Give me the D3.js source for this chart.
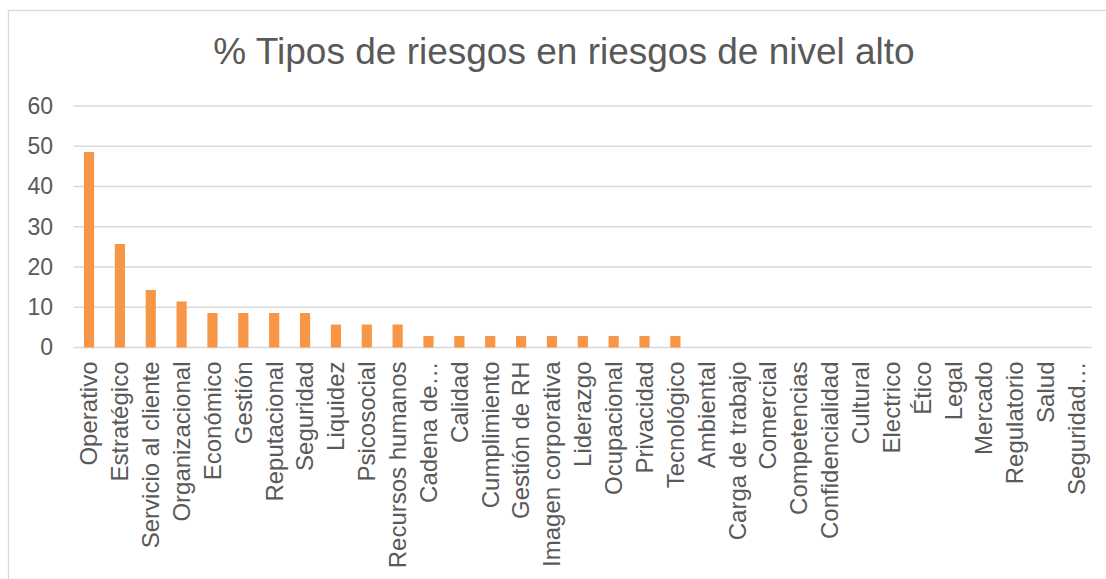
<!DOCTYPE html>
<html>
<head>
<meta charset="utf-8">
<script src="https://cdn.jsdelivr.net/npm/d3@7"></script>
<style>
  html, body { margin: 0; padding: 0; background: #fff; }
  svg { display: block; font-family: "Liberation Sans", Arial, sans-serif; }
</style>
</head>
<body>
<div id="chart"></div>
<script>
const title = '% Tipos de riesgos en riesgos de nivel alto';

const categories = [
  'Operativo', 'Estratégico', 'Servicio al cliente', 'Organizacional',
  'Económico', 'Gestión', 'Reputacional', 'Seguridad', 'Liquidez',
  'Psicosocial', 'Recursos humanos', 'Cadena de…', 'Calidad',
  'Cumplimiento', 'Gestión de RH', 'Imagen corporativa', 'Liderazgo',
  'Ocupacional', 'Privacidad', 'Tecnológico', 'Ambiental',
  'Carga de trabajo', 'Comercial', 'Competencias', 'Confidencialidad',
  'Cultural', 'Electrico', 'Ético', 'Legal', 'Mercado', 'Regulatorio',
  'Salud', 'Seguridad…'
];

const values = [
  48.57, 25.71, 14.29, 11.43,
  8.57, 8.57, 8.57, 8.57,
  5.71, 5.71, 5.71,
  2.86, 2.86, 2.86, 2.86, 2.86, 2.86, 2.86, 2.86, 2.86,
  0, 0, 0, 0, 0, 0, 0, 0, 0, 0, 0, 0, 0
];

const yTicks = [0, 10, 20, 30, 40, 50, 60];

const width = 1106;
const height = 579;
const textColor = '#595959';
const gridColor = '#d9d9d9';
const barColor = '#f79646';

const svg = d3
  .select('#chart')
  .append('svg')
  .attr('width', width)
  .attr('height', height);

// chart frame (runs past the right and bottom edges)
svg
  .append('rect')
  .attr('x', 8.5)
  .attr('y', 10.5)
  .attr('width', 1112)
  .attr('height', 600)
  .attr('fill', '#fff')
  .attr('stroke', gridColor)
  .attr('stroke-width', 1.3);

svg
  .append('text')
  .attr('x', 564)
  .attr('y', 64)
  .attr('text-anchor', 'middle')
  .attr('fill', textColor)
  .attr('font-size', 37)
  .text(title);

const x = d3
  .scaleBand()
  .domain(categories)
  .range([73.6, 1092])
  .paddingInner(0.67)
  .paddingOuter(0.335);

const y = d3.scaleLinear().domain([0, 60]).range([347.5, 106]);

// gridlines
svg
  .append('g')
  .selectAll('line')
  .data(yTicks)
  .join('line')
  .attr('x1', 73.6)
  .attr('x2', 1092)
  .attr('y1', (d) => y(d))
  .attr('y2', (d) => y(d))
  .attr('stroke', gridColor)
  .attr('stroke-width', 1.5);

// y axis labels
const yAxis = svg
  .append('g')
  .attr('transform', 'translate(53,0)')
  .call(d3.axisLeft(y).tickValues(yTicks).tickSize(0).tickPadding(0));
yAxis.select('.domain').remove();
yAxis
  .selectAll('text')
  .attr('fill', textColor)
  .attr('font-size', 23)
  .attr('font-family', '"Liberation Sans", Arial, sans-serif');

// bars
svg
  .append('g')
  .selectAll('rect')
  .data(values)
  .join('rect')
  .attr('x', (d, i) => x(categories[i]))
  .attr('width', x.bandwidth())
  .attr('y', (d) => y(d))
  .attr('height', (d) => y(0) - y(d))
  .attr('fill', barColor);

// x axis labels, rotated
const xAxis = svg
  .append('g')
  .attr('transform', `translate(0,${y(0)})`)
  .call(d3.axisBottom(x).tickSize(0).tickPadding(0));
xAxis.select('.domain').remove();
xAxis
  .selectAll('text')
  .attr('fill', textColor)
  .attr('font-size', 24)
  .attr('font-family', '"Liberation Sans", Arial, sans-serif')
  .attr('text-anchor', 'end')
  .attr('transform', 'translate(0,14) rotate(-90)')
  .attr('dy', '0.35em')
  .attr('y', 0)
  .attr('x', 0);
</script>
</body>
</html>
